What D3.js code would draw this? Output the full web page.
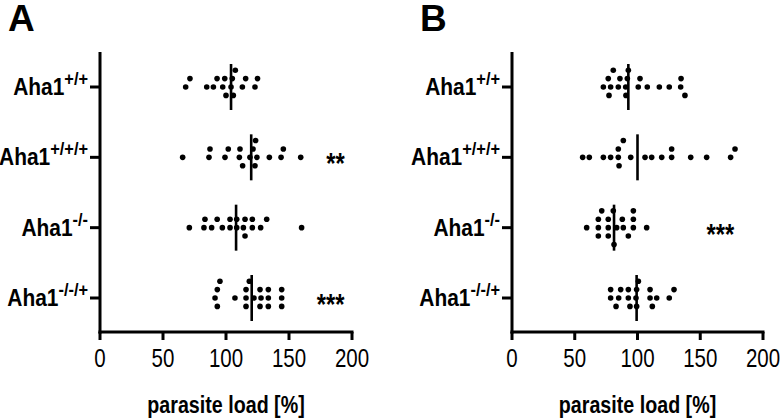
<!DOCTYPE html>
<html>
<head>
<meta charset="utf-8">
<script src="https://cdn.jsdelivr.net/npm/d3@7"></script>
<style>
  body { margin: 0; background: #fff; }
  svg { display: block; }
  .lbl { font-family: "Liberation Sans", Arial, sans-serif; }
</style>
</head>
<body>
<svg id="chart" width="780" height="420"></svg>
<script>
const genotypes = ["+/+", "+/+/+", "-/-", "-/-/+"];
const xTicks = [0, 50, 100, 150, 200];

// panel A values, one array per genotype
const loadA = [
  [68, 71.4, 84.7, 90, 92.9, 97.4, 99, 100, 104, 105, 105.8, 107.4, 113, 115.6, 123, 125],
  [65.6, 86.5, 87.3, 99.2, 101.8, 110.6, 111.1, 113.2, 119, 121.5, 123, 123.5, 124.5, 134.4, 143.7, 145.5, 159.3],
  [70.9, 82.5, 83.3, 88.6, 93, 97.1, 103.2, 103.2, 108.5, 108.5, 113.8, 115.1, 115.1, 120.9, 120.9, 127.5, 132.3, 160],
  [91.3, 93.1, 93.1, 95.2, 107.1, 115.9, 115.9, 115.9, 118.5, 122.2, 127, 127.8, 127, 133.6, 133.6, 133.6, 144.2, 144.2, 144.2]
];
const meanA = [104, 120, 108, 120.4];
const sigA = ["", "**", "", "***"];
const sigAtA = [0, 187, 0, 183];   // where the stars sit, in % units

// panel B values
const loadB = [
  [72.8, 76.7, 77.3, 78.6, 80.7, 84.7, 86, 90.6, 90.8, 91.9, 92.7, 100.6, 102, 107.8, 117.4, 125.3, 134.4, 134.7, 137.8],
  [56.3, 61.6, 72.8, 78.6, 84.7, 84.7, 85.3, 88.7, 94.6, 106, 111.3, 119.3, 127.2, 127.2, 142.4, 155.1, 174.2, 177.7],
  [59.5, 68.8, 68.8, 68.8, 71.5, 76.7, 76.7, 76.7, 80.7, 81.3, 83.4, 87.9, 88.7, 92.7, 96.7, 96.7, 96.7, 107.3],
  [78.6, 78.6, 82.9, 85, 86.6, 92.7, 92.7, 94, 98.8, 99.3, 99.3, 100.7, 110, 110, 111.8, 115.3, 125.3, 129.1]
];
const meanB = [92.7, 100, 81.3, 99.3];
const sigB = ["", "", "***", ""];
const sigAtB = [0, 0, 166, 0];

const svg = d3.select('#chart');
const axisTop = 52, axisY = 332;
const rowStep = 8.4, minGap = 6.4, r = 2.8;

// squeeze text sideways so it looks like a condensed face
const at = (x, y, k = 0.82) => `translate(${x},${y}) scale(${k},1)`;

// simple column-scatter layout: put each point in the nearest free row
function swarm(vals, x) {
  const placed = [];
  vals.slice().sort((a, b) => a - b).forEach(v => {
    const px = x(v);
    for (let k = 0; k < 12; k++) {
      const row = k === 0 ? 0 : (k % 2 ? -Math.ceil(k / 2) : Math.ceil(k / 2));
      if (!placed.some(p => p.row === row && Math.abs(p.x - px) < minGap)) {
        placed.push({ x: px, row });
        break;
      }
    }
  });
  return placed;
}

function drawPanel(x0, x1, letter, loads, means, sigs, sigAt) {
  const x = d3.scaleLinear().domain([0, 200]).range([x0, x1]);
  const y = d3.scalePoint().domain(genotypes).range([87, 298]);
  const g = svg.append('g');

  g.append('text')
    .attr('x', x0 - 92).attr('y', 31)
    .style('font', 'bold 37px "Liberation Sans", Arial, sans-serif')
    .text(letter);

  // axes
  g.append('line').attr('x1', x0).attr('x2', x0).attr('y1', axisTop).attr('y2', axisY + 1.5)
    .attr('stroke', '#000').attr('stroke-width', 3);
  g.append('line').attr('x1', x0 - 1.5).attr('x2', x1 + 1.5).attr('y1', axisY).attr('y2', axisY)
    .attr('stroke', '#000').attr('stroke-width', 3);

  g.selectAll('.xt').data(xTicks).join('line')
    .attr('x1', d => x(d)).attr('x2', d => x(d))
    .attr('y1', axisY).attr('y2', axisY + 8)
    .attr('stroke', '#000').attr('stroke-width', 3);
  g.selectAll('.xl').data(xTicks).join('text')
    .attr('class', 'lbl')
    .attr('transform', d => at(x(d), axisY + 35))
    .attr('text-anchor', 'middle')
    .style('font-size', '25px')
    .text(d => d);

  g.selectAll('.yt').data(genotypes).join('line')
    .attr('x1', x0 - 10).attr('x2', x0)
    .attr('y1', d => y(d)).attr('y2', d => y(d))
    .attr('stroke', '#000').attr('stroke-width', 3);

  const lab = g.selectAll('.yl').data(genotypes).join('text')
    .attr('class', 'lbl')
    .attr('transform', d => at(x0 - 12, y(d) + 8, 0.91))
    .attr('text-anchor', 'end')
    .style('font-size', '23px').style('font-weight', 'bold');
  lab.append('tspan').text('Aha1');
  lab.append('tspan').attr('dy', -10).style('font-size', '18px').text(d => d);

  g.append('text')
    .attr('class', 'lbl')
    .attr('transform', at((x0 + x1) / 2, 413))
    .attr('text-anchor', 'middle')
    .style('font-size', '24px').style('font-weight', 'bold')
    .text('parasite load [%]');

  genotypes.forEach((gt, i) => {
    const cy = y(gt);
    const pts = swarm(loads[i], x);
    g.selectAll(null).data(pts).join('circle')
      .attr('cx', d => d.x).attr('cy', d => cy + d.row * rowStep)
      .attr('r', r).attr('fill', '#000');
    g.append('line')
      .attr('x1', x(means[i])).attr('x2', x(means[i]))
      .attr('y1', cy - 23).attr('y2', cy + 23)
      .attr('stroke', '#000').attr('stroke-width', 2.6);
    if (sigs[i]) {
      g.append('text')
        .attr('class', 'lbl')
        .attr('transform', at(x(sigAt[i]), cy + 16))
        .attr('text-anchor', 'middle')
        .style('font-size', '29px').style('font-weight', 'bold')
        .text(sigs[i]);
    }
  });
}

drawPanel(100, 352, 'A', loadA, meanA, sigA, sigAtA);
drawPanel(512, 763, 'B', loadB, meanB, sigB, sigAtB);
</script>
</body>
</html>
